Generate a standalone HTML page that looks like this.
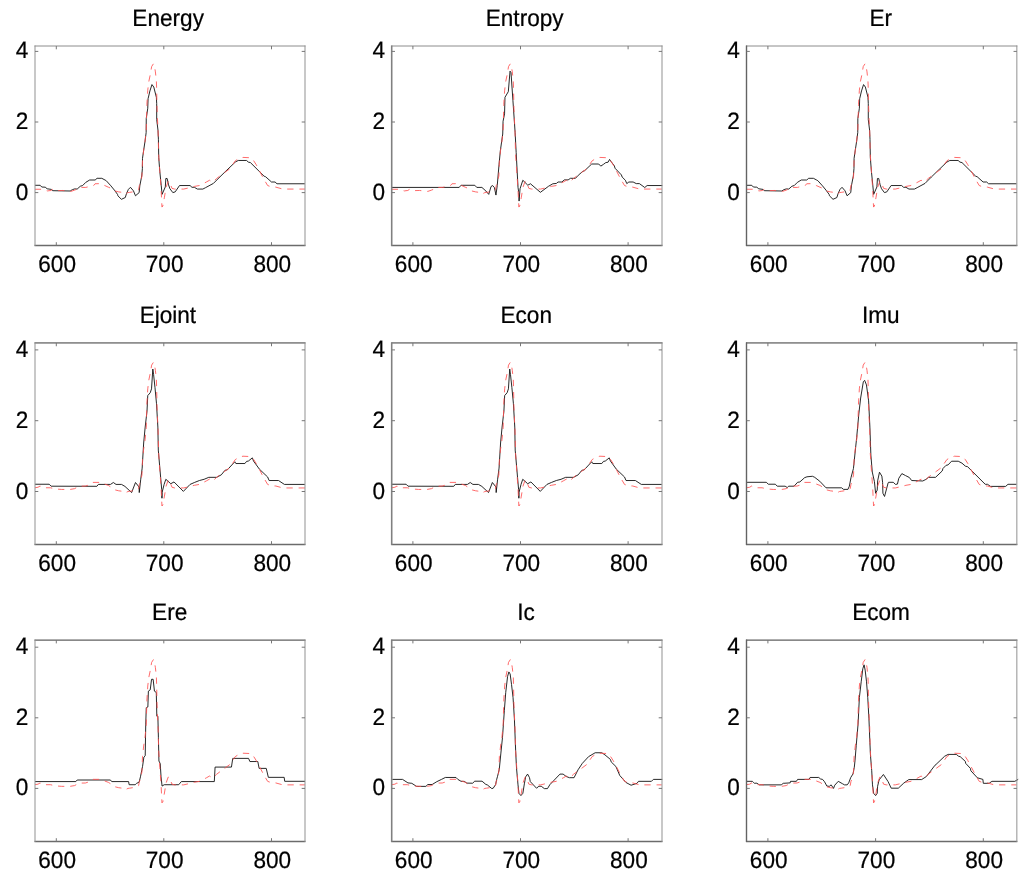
<!DOCTYPE html><html><head><meta charset="utf-8"><style>html,body{margin:0;padding:0;background:#fff;}svg{display:block;will-change:transform;}text{font-family:"Liberation Sans", sans-serif;font-size:22.6px;fill:#000;stroke:#000;stroke-width:0.22px;text-rendering:geometricPrecision;}</style></head><body>
<svg width="1024" height="870" viewBox="0 0 1024 870">
<rect width="1024" height="870" fill="#fff"/>
<clipPath id="c00"><rect x="35.00" y="46.00" width="271.60" height="199.50"/></clipPath>
<g clip-path="url(#c00)" fill="none" stroke-linejoin="round">
<path d="M35.00 185.29L40.16 185.29L41.77 187.02L45.22 187.20L47.15 188.79L51.46 189.42L52.64 190.69L70.18 191.01L72.44 189.60L74.81 188.89L77.17 189.07L80.29 186.25L82.66 185.54L85.78 182.36L89.66 180.00L95.14 180.00L97.08 178.30L101.81 178.30L105.15 180.10L106.23 180.70L110.85 185.79L114.40 190.13L117.52 194.36L117.85 195.78L121.40 199.31L125.27 197.54L126.46 193.66L128.39 189.42L130.44 187.31L133.45 190.84L135.49 195.78L139.15 192.60L139.80 185.89L141.73 176.01L142.38 168.60L142.49 158.36L143.67 150.24L145.07 141.06L146.15 132.59L146.25 118.47L147.76 108.23L148.08 98.70L149.91 90.94L151.96 84.58L153.79 87.05L156.37 97.29L156.69 103.64L156.69 119.53L157.98 130.12L158.41 139.30L158.74 157.65L159.81 171.42L161.21 185.19L162.07 194.36L165.30 186.95L165.84 178.48L167.13 178.48L168.53 184.83L169.93 188.72L172.83 192.60L175.20 191.89L179.50 185.54L190.05 185.54L191.98 187.31L194.35 187.31L197.36 189.07L202.85 189.07L205.54 187.66L213.40 183.42L219.74 177.07L225.02 171.88L235.24 162.10L238.25 160.48L246.54 160.48L248.37 162.10L250.41 162.59L264.08 176.19L265.58 176.72L271.50 182.01L275.05 182.01L276.99 183.78L304.86 183.78" stroke="#111" stroke-width="0.9"/>
<path d="M34.78 189.25L41.99 189.25L44.46 190.13L47.48 190.91L50.92 190.48L52.64 189.32L54.15 190.48L56.30 190.66L62.76 190.48L70.93 191.40L74.59 190.13L77.60 188.89L79.11 187.41L85.78 187.41L90.73 186.25L93.64 185.54L95.04 183.78L101.06 183.60L104.72 185.54L108.38 187.20L111.18 188.36L114.40 190.84L118.71 191.89L122.58 192.42L125.16 194.01L127.96 192.60L129.58 192.39L132.70 191.89L136.25 191.54L138.61 189.78L139.37 185.54L140.23 183.78L141.95 176.01L142.49 160.83L143.67 150.24L145.07 141.06L146.25 129.06L146.90 104.35L147.76 90.23L148.84 81.41L150.34 74.34L151.63 66.58L153.46 63.75L154.54 66.58L155.40 71.87L156.37 80.70L156.69 90.23L156.91 104.35L157.44 118.47L158.09 130.82L158.63 153.77L159.81 171.42L160.99 187.31L161.96 207.07L162.82 206.01L164.44 197.19L166.05 187.31L168.20 181.30L169.28 181.30L171.97 188.36L174.66 189.07L178.96 189.07L183.70 189.07L189.72 187.66L194.35 186.42L199.41 185.54L203.71 183.42L206.40 182.01L209.52 180.25L212.64 182.36L216.62 178.48L221.25 174.95L225.23 172.13L229.75 168.77L235.24 160.83L239.22 158.36L242.99 157.41L251.16 157.79L253.75 160.83L256.22 164.71L259.45 170.71L263.65 178.83L267.63 185.54L271.50 186.95L275.80 187.13L282.80 189.07L304.86 189.07" stroke="#ff5050" stroke-width="0.85" stroke-dasharray="6.3 5.9"/>
</g>
<path d="M34.50 46.00H305.50" stroke="#8c8c8c" stroke-width="1.00"/>
<path d="M34.50 245.50H305.50" stroke="#6b6b6b" stroke-width="1.60"/>
<path d="M35.00 45.50V246.00" stroke="#919191" stroke-width="1.00"/>
<path d="M305.00 45.50V246.00" stroke="#919191" stroke-width="1.00"/>
<path d="M56.30 46.00v3.30M56.30 245.50v-3.30M163.80 46.00v3.30M163.80 245.50v-3.30M271.50 46.00v3.30M271.50 245.50v-3.30M35.00 192.60h3.30M305.00 192.60h-3.30M35.00 122.00h3.30M305.00 122.00h-3.30M35.00 51.40h3.30M305.00 51.40h-3.30" stroke="#777" stroke-width="1" fill="none"/>
<text transform="translate(57.10 272.20) scale(1 1.05)" text-anchor="middle">600</text>
<text transform="translate(164.60 272.20) scale(1 1.05)" text-anchor="middle">700</text>
<text transform="translate(272.30 272.20) scale(1 1.05)" text-anchor="middle">800</text>
<text transform="translate(28.40 199.60) scale(1 1.05)" text-anchor="end">0</text>
<text transform="translate(28.40 129.00) scale(1 1.05)" text-anchor="end">2</text>
<text transform="translate(28.40 58.40) scale(1 1.05)" text-anchor="end">4</text>
<text transform="translate(168.15 26.00) scale(1 1.05)" text-anchor="middle">Energy</text>
<clipPath id="c01"><rect x="391.70" y="46.00" width="271.90" height="199.50"/></clipPath>
<g clip-path="url(#c01)" fill="none" stroke-linejoin="round">
<path d="M391.68 187.41L459.20 187.41L460.97 185.29L474.80 185.29L476.79 187.41L481.90 187.41L485.94 191.05L488.74 194.36L490.99 186.60L492.61 185.54L494.44 187.66L495.94 195.07L497.24 185.54L499.06 164.36L500.36 150.59L502.72 134.00L503.05 121.29L504.55 113.88L504.98 97.29L508.32 91.64L510.04 71.17L511.01 72.58L512.95 100.82L515.10 132.24L516.17 152.36L518.00 187.31L518.76 192.60L519.08 201.07L520.05 188.72L522.84 180.25L527.79 185.19L530.48 183.78L540.38 192.32L548.56 186.25L552.86 183.78L556.42 183.42L558.03 182.01L561.90 182.01L564.27 179.89L568.14 179.89L570.51 178.30L575.46 178.30L578.26 175.30L582.67 171.42L584.61 170.71L591.71 164.01L598.70 164.01L600.75 166.12L603.44 164.36L605.80 162.59L608.06 162.24L609.57 159.42L611.18 161.71L614.30 165.77L615.06 168.24L621.41 174.95L622.16 177.07L625.39 180.25L626.79 183.60L628.83 182.01L633.13 182.01L636.25 183.60L639.38 183.60L644.76 187.52L647.12 185.54L662.29 185.54" stroke="#111" stroke-width="0.9"/>
<path d="M391.68 189.25L398.89 189.25L401.36 190.13L404.38 190.91L407.82 190.48L409.54 189.32L411.05 190.48L413.20 190.66L419.66 190.48L427.83 191.40L431.49 190.13L434.50 188.89L436.01 187.41L442.68 187.41L447.63 186.25L450.54 185.54L451.94 183.78L457.96 183.60L461.62 185.54L465.28 187.20L468.08 188.36L471.30 190.84L475.61 191.89L479.48 192.42L482.06 194.01L484.86 192.60L486.48 192.39L489.60 191.89L493.15 191.54L495.51 189.78L496.27 185.54L497.13 183.78L498.85 176.01L499.39 160.83L500.57 150.24L501.97 141.06L503.15 129.06L503.80 104.35L504.66 90.23L505.74 81.41L507.24 74.34L508.53 66.58L510.36 63.75L511.44 66.58L512.30 71.87L513.27 80.70L513.59 90.23L513.81 104.35L514.34 118.47L514.99 130.82L515.53 153.77L516.71 171.42L517.89 187.31L518.86 207.07L519.72 206.01L521.34 197.19L522.95 187.31L525.10 181.30L526.18 181.30L528.87 188.36L531.56 189.07L535.86 189.07L540.60 189.07L546.62 187.66L551.25 186.42L556.31 185.54L560.61 183.42L563.30 182.01L566.42 180.25L569.54 182.36L573.52 178.48L578.15 174.95L582.13 172.13L586.65 168.77L592.14 160.83L596.12 158.36L599.89 157.41L608.06 157.79L610.65 160.83L613.12 164.71L616.35 170.71L620.55 178.83L624.53 185.54L628.40 186.95L632.70 187.13L639.70 189.07L661.76 189.07" stroke="#ff5050" stroke-width="0.85" stroke-dasharray="6.3 5.9"/>
</g>
<path d="M391.20 46.00H662.50" stroke="#8c8c8c" stroke-width="1.00"/>
<path d="M391.20 245.50H662.50" stroke="#6b6b6b" stroke-width="1.60"/>
<path d="M391.70 45.50V246.00" stroke="#808080" stroke-width="1.60"/>
<path d="M662.00 45.50V246.00" stroke="#919191" stroke-width="1.00"/>
<path d="M412.90 46.00v3.30M412.90 245.50v-3.30M520.50 46.00v3.30M520.50 245.50v-3.30M628.10 46.00v3.30M628.10 245.50v-3.30M391.70 192.60h3.30M662.00 192.60h-3.30M391.70 122.00h3.30M662.00 122.00h-3.30M391.70 51.40h3.30M662.00 51.40h-3.30" stroke="#777" stroke-width="1" fill="none"/>
<text transform="translate(413.70 272.20) scale(1 1.05)" text-anchor="middle">600</text>
<text transform="translate(521.30 272.20) scale(1 1.05)" text-anchor="middle">700</text>
<text transform="translate(628.90 272.20) scale(1 1.05)" text-anchor="middle">800</text>
<text transform="translate(385.10 199.60) scale(1 1.05)" text-anchor="end">0</text>
<text transform="translate(385.10 129.00) scale(1 1.05)" text-anchor="end">2</text>
<text transform="translate(385.10 58.40) scale(1 1.05)" text-anchor="end">4</text>
<text transform="translate(524.65 26.00) scale(1 1.05)" text-anchor="middle">Entropy</text>
<clipPath id="c02"><rect x="746.50" y="46.00" width="271.95" height="199.50"/></clipPath>
<g clip-path="url(#c02)" fill="none" stroke-linejoin="round">
<path d="M746.60 185.29L751.76 185.29L753.37 187.02L756.82 187.20L758.75 188.79L763.06 189.42L764.24 190.69L781.78 191.01L784.04 189.60L786.41 188.89L788.77 189.07L791.89 186.25L794.26 185.54L797.38 182.36L801.26 180.00L806.74 180.00L808.68 178.30L813.41 178.30L816.75 180.10L817.83 180.70L822.45 185.79L826.00 190.13L829.12 194.36L829.45 195.78L833.00 199.31L836.87 197.54L838.06 193.66L839.99 189.42L842.04 187.31L845.05 190.84L847.09 195.78L850.75 192.60L851.40 185.89L853.33 176.01L853.98 168.60L854.09 158.36L855.27 150.24L856.67 141.06L857.75 132.59L857.85 118.47L859.36 108.23L859.68 98.70L861.51 90.94L863.56 84.58L865.39 87.05L867.97 97.29L868.29 103.64L868.29 119.53L869.58 130.12L870.01 139.30L870.34 157.65L871.41 171.42L872.81 185.19L873.67 194.36L876.90 186.95L877.44 178.48L878.73 178.48L880.13 184.83L881.53 188.72L884.43 192.60L886.80 191.89L891.10 185.54L901.65 185.54L903.58 187.31L905.95 187.31L908.96 189.07L914.45 189.07L917.14 187.66L925.00 183.42L931.34 177.07L936.62 171.88L946.84 162.10L949.85 160.48L958.14 160.48L959.97 162.10L962.01 162.59L975.68 176.19L977.18 176.72L983.10 182.01L986.65 182.01L988.59 183.78L1016.46 183.78" stroke="#111" stroke-width="0.9"/>
<path d="M746.38 189.25L753.59 189.25L756.06 190.13L759.08 190.91L762.52 190.48L764.24 189.32L765.75 190.48L767.90 190.66L774.36 190.48L782.53 191.40L786.19 190.13L789.20 188.89L790.71 187.41L797.38 187.41L802.33 186.25L805.24 185.54L806.64 183.78L812.66 183.60L816.32 185.54L819.98 187.20L822.78 188.36L826.00 190.84L830.31 191.89L834.18 192.42L836.76 194.01L839.56 192.60L841.18 192.39L844.30 191.89L847.85 191.54L850.21 189.78L850.97 185.54L851.83 183.78L853.55 176.01L854.09 160.83L855.27 150.24L856.67 141.06L857.85 129.06L858.50 104.35L859.36 90.23L860.44 81.41L861.94 74.34L863.23 66.58L865.06 63.75L866.14 66.58L867.00 71.87L867.97 80.70L868.29 90.23L868.51 104.35L869.04 118.47L869.69 130.82L870.23 153.77L871.41 171.42L872.59 187.31L873.56 207.07L874.42 206.01L876.04 197.19L877.65 187.31L879.80 181.30L880.88 181.30L883.57 188.36L886.26 189.07L890.56 189.07L895.30 189.07L901.32 187.66L905.95 186.42L911.01 185.54L915.31 183.42L918.00 182.01L921.12 180.25L924.24 182.36L928.22 178.48L932.85 174.95L936.83 172.13L941.35 168.77L946.84 160.83L950.82 158.36L954.59 157.41L962.76 157.79L965.35 160.83L967.82 164.71L971.05 170.71L975.25 178.83L979.23 185.54L983.10 186.95L987.40 187.13L994.40 189.07L1016.46 189.07" stroke="#ff5050" stroke-width="0.85" stroke-dasharray="6.3 5.9"/>
</g>
<path d="M746.00 46.00H1017.35" stroke="#8c8c8c" stroke-width="1.00"/>
<path d="M746.00 245.50H1017.35" stroke="#6b6b6b" stroke-width="1.60"/>
<path d="M746.50 45.50V246.00" stroke="#636363" stroke-width="1.40"/>
<path d="M1016.85 45.50V246.00" stroke="#919191" stroke-width="1.00"/>
<path d="M767.90 46.00v3.30M767.90 245.50v-3.30M875.60 46.00v3.30M875.60 245.50v-3.30M983.30 46.00v3.30M983.30 245.50v-3.30M746.50 192.60h3.30M1016.85 192.60h-3.30M746.50 122.00h3.30M1016.85 122.00h-3.30M746.50 51.40h3.30M1016.85 51.40h-3.30" stroke="#777" stroke-width="1" fill="none"/>
<text transform="translate(768.70 272.20) scale(1 1.05)" text-anchor="middle">600</text>
<text transform="translate(876.40 272.20) scale(1 1.05)" text-anchor="middle">700</text>
<text transform="translate(984.10 272.20) scale(1 1.05)" text-anchor="middle">800</text>
<text transform="translate(739.90 199.60) scale(1 1.05)" text-anchor="end">0</text>
<text transform="translate(739.90 129.00) scale(1 1.05)" text-anchor="end">2</text>
<text transform="translate(739.90 58.40) scale(1 1.05)" text-anchor="end">4</text>
<text transform="translate(880.80 26.00) scale(1 1.05)" text-anchor="middle">Er</text>
<clipPath id="c10"><rect x="35.00" y="342.95" width="271.60" height="201.55"/></clipPath>
<g clip-path="url(#c10)" fill="none" stroke-linejoin="round">
<path d="M34.78 484.24L49.20 484.24L51.14 486.19L96.87 486.30L98.37 484.42L110.53 484.42L113.33 482.51L116.02 484.42L121.51 484.42L124.95 486.40L131.62 492.56L135.49 482.51L139.15 487.11L139.26 492.56L140.66 479.82L142.16 468.14L143.67 443.00L145.18 427.07L147.01 411.14L147.76 395.57L150.23 392.73L151.53 388.84L152.82 369.02L153.57 374.33L154.97 387.42L156.48 403.35L157.87 427.07L158.30 450.08L160.67 477.69L161.69 489.38L161.96 498.23L162.07 492.56L164.12 484.42L165.84 479.29L170.79 483.71L174.01 481.94L183.38 491.39L190.05 484.42L194.67 482.40L199.41 480.53L204.14 479.29L208.77 477.34L216.62 477.34L221.25 474.86L225.02 470.26L227.28 469.91L234.81 461.76L235.88 463.53L244.92 463.53L246.54 461.41L248.37 461.06L252.35 457.87L253.53 461.06L259.45 469.20L267.63 476.99L269.13 480.53L278.49 480.53L284.41 484.42L304.86 484.42" stroke="#111" stroke-width="0.9"/>
<path d="M34.78 487.78L38.01 487.25L40.16 486.01L41.88 487.61L45.54 487.78L50.49 487.78L55.44 488.95L61.68 489.45L70.07 489.45L74.59 488.67L77.60 487.00L78.90 486.19L85.35 486.08L90.73 484.42L92.88 482.40L100.85 482.40L104.72 484.07L108.49 485.48L111.18 487.25L114.40 489.73L118.71 490.79L122.58 491.32L125.16 492.92L127.96 491.50L129.58 491.29L132.70 490.79L136.25 490.44L138.61 488.67L139.37 484.42L140.23 482.65L141.95 474.86L142.49 459.64L143.67 449.02L145.07 439.82L146.25 427.78L146.90 403.00L147.76 388.84L148.84 379.99L150.34 372.91L151.63 365.12L153.46 362.29L154.54 365.12L155.40 370.43L156.37 379.28L156.69 388.84L156.91 403.00L157.44 417.16L158.09 429.55L158.63 452.56L159.81 470.26L160.99 486.19L161.96 506.01L162.82 504.95L164.44 496.10L166.05 486.19L168.20 480.17L169.28 480.17L171.97 487.25L174.66 487.96L178.96 487.96L183.70 487.96L189.72 486.54L194.35 485.31L199.41 484.42L203.71 482.30L206.40 480.88L209.52 479.11L212.64 481.23L216.62 477.34L221.25 473.80L225.23 470.97L229.75 467.61L235.24 459.64L239.22 457.16L242.99 456.21L251.16 456.60L253.75 459.64L256.22 463.53L259.45 469.55L263.65 477.69L267.63 484.42L271.50 485.84L275.80 486.01L282.80 487.96L304.86 487.96" stroke="#ff5050" stroke-width="0.85" stroke-dasharray="6.3 5.9"/>
</g>
<path d="M34.50 342.95H305.50" stroke="#383838" stroke-width="1.00"/>
<path d="M34.50 544.50H305.50" stroke="#6b6b6b" stroke-width="1.60"/>
<path d="M35.00 342.45V545.00" stroke="#919191" stroke-width="1.00"/>
<path d="M305.00 342.45V545.00" stroke="#919191" stroke-width="1.00"/>
<path d="M56.30 342.95v3.30M56.30 544.50v-3.30M163.80 342.95v3.30M163.80 544.50v-3.30M271.50 342.95v3.30M271.50 544.50v-3.30M35.00 491.50h3.30M305.00 491.50h-3.30M35.00 420.70h3.30M305.00 420.70h-3.30M35.00 349.90h3.30M305.00 349.90h-3.30" stroke="#777" stroke-width="1" fill="none"/>
<text transform="translate(57.10 571.20) scale(1 1.05)" text-anchor="middle">600</text>
<text transform="translate(164.60 571.20) scale(1 1.05)" text-anchor="middle">700</text>
<text transform="translate(272.30 571.20) scale(1 1.05)" text-anchor="middle">800</text>
<text transform="translate(28.40 498.50) scale(1 1.05)" text-anchor="end">0</text>
<text transform="translate(28.40 427.70) scale(1 1.05)" text-anchor="end">2</text>
<text transform="translate(28.40 356.90) scale(1 1.05)" text-anchor="end">4</text>
<text transform="translate(167.90 323.00) scale(1 1.05)" text-anchor="middle">Ejoint</text>
<clipPath id="c11"><rect x="391.70" y="342.95" width="271.90" height="201.55"/></clipPath>
<g clip-path="url(#c11)" fill="none" stroke-linejoin="round">
<path d="M391.68 484.24L406.10 484.24L408.04 486.19L453.77 486.30L455.27 484.42L467.43 484.42L470.23 482.51L472.92 484.42L478.41 484.42L481.85 486.40L488.52 492.56L492.39 482.51L496.05 487.11L496.16 492.56L497.56 479.82L499.06 468.14L500.57 443.00L502.08 427.07L503.91 411.14L504.66 395.57L507.13 392.73L508.43 388.84L509.72 369.02L510.47 374.33L511.87 387.42L513.38 403.35L514.77 427.07L515.20 450.08L517.57 477.69L518.59 489.38L518.86 498.23L518.97 492.56L521.02 484.42L522.74 479.29L527.69 483.71L530.91 481.94L540.28 491.39L546.95 484.42L551.57 482.40L556.31 480.53L561.04 479.29L565.67 477.34L573.52 477.34L578.15 474.86L581.92 470.26L584.18 469.91L591.71 461.76L592.78 463.53L601.82 463.53L603.44 461.41L605.27 461.06L609.25 457.87L610.43 461.06L616.35 469.20L624.53 476.99L626.03 480.53L635.39 480.53L641.31 484.42L661.76 484.42" stroke="#111" stroke-width="0.9"/>
<path d="M391.68 487.78L394.91 487.25L397.06 486.01L398.78 487.61L402.44 487.78L407.39 487.78L412.34 488.95L418.58 489.45L426.97 489.45L431.49 488.67L434.50 487.00L435.80 486.19L442.25 486.08L447.63 484.42L449.78 482.40L457.75 482.40L461.62 484.07L465.39 485.48L468.08 487.25L471.30 489.73L475.61 490.79L479.48 491.32L482.06 492.92L484.86 491.50L486.48 491.29L489.60 490.79L493.15 490.44L495.51 488.67L496.27 484.42L497.13 482.65L498.85 474.86L499.39 459.64L500.57 449.02L501.97 439.82L503.15 427.78L503.80 403.00L504.66 388.84L505.74 379.99L507.24 372.91L508.53 365.12L510.36 362.29L511.44 365.12L512.30 370.43L513.27 379.28L513.59 388.84L513.81 403.00L514.34 417.16L514.99 429.55L515.53 452.56L516.71 470.26L517.89 486.19L518.86 506.01L519.72 504.95L521.34 496.10L522.95 486.19L525.10 480.17L526.18 480.17L528.87 487.25L531.56 487.96L535.86 487.96L540.60 487.96L546.62 486.54L551.25 485.31L556.31 484.42L560.61 482.30L563.30 480.88L566.42 479.11L569.54 481.23L573.52 477.34L578.15 473.80L582.13 470.97L586.65 467.61L592.14 459.64L596.12 457.16L599.89 456.21L608.06 456.60L610.65 459.64L613.12 463.53L616.35 469.55L620.55 477.69L624.53 484.42L628.40 485.84L632.70 486.01L639.70 487.96L661.76 487.96" stroke="#ff5050" stroke-width="0.85" stroke-dasharray="6.3 5.9"/>
</g>
<path d="M391.20 342.95H662.50" stroke="#383838" stroke-width="1.00"/>
<path d="M391.20 544.50H662.50" stroke="#6b6b6b" stroke-width="1.60"/>
<path d="M391.70 342.45V545.00" stroke="#808080" stroke-width="1.60"/>
<path d="M662.00 342.45V545.00" stroke="#919191" stroke-width="1.00"/>
<path d="M412.90 342.95v3.30M412.90 544.50v-3.30M520.50 342.95v3.30M520.50 544.50v-3.30M628.10 342.95v3.30M628.10 544.50v-3.30M391.70 491.50h3.30M662.00 491.50h-3.30M391.70 420.70h3.30M662.00 420.70h-3.30M391.70 349.90h3.30M662.00 349.90h-3.30" stroke="#777" stroke-width="1" fill="none"/>
<text transform="translate(413.70 571.20) scale(1 1.05)" text-anchor="middle">600</text>
<text transform="translate(521.30 571.20) scale(1 1.05)" text-anchor="middle">700</text>
<text transform="translate(628.90 571.20) scale(1 1.05)" text-anchor="middle">800</text>
<text transform="translate(385.10 498.50) scale(1 1.05)" text-anchor="end">0</text>
<text transform="translate(385.10 427.70) scale(1 1.05)" text-anchor="end">2</text>
<text transform="translate(385.10 356.90) scale(1 1.05)" text-anchor="end">4</text>
<text transform="translate(526.20 323.00) scale(1 1.05)" text-anchor="middle">Econ</text>
<clipPath id="c12"><rect x="746.50" y="342.95" width="271.95" height="201.55"/></clipPath>
<g clip-path="url(#c12)" fill="none" stroke-linejoin="round">
<path d="M746.38 483.39L747.24 482.30L766.29 482.30L768.33 484.21L775.32 484.21L777.26 486.19L785.12 486.19L787.38 487.61L788.56 486.19L794.05 486.19L797.60 482.30L799.86 481.94L804.59 477.69L806.96 476.81L812.45 476.28L814.71 477.34L819.76 481.23L826.00 487.82L841.61 487.82L843.54 489.38L847.95 489.38L849.35 486.19L850.97 477.69L853.44 468.49L854.84 455.04L856.67 437.69L858.82 413.97L860.65 398.04L863.34 381.76L864.63 380.34L866.46 384.95L868.61 400.88L869.90 427.07L870.87 455.04L872.27 472.03L874.42 481.59L875.61 493.27L877.22 490.08L877.65 480.88L879.48 472.21L881.85 476.10L882.60 482.30L882.92 493.27L884.54 496.46L888.09 483.00L888.52 482.30L893.25 482.30L895.51 484.42L897.45 484.07L898.74 478.40L901.86 473.62L905.52 475.57L909.39 477.52L911.65 480.53L922.74 480.99L925.80 479.46L928.55 477.34L935.54 477.34L942.21 470.97L942.97 468.49L946.09 465.30L948.02 464.95L951.57 461.23L958.24 461.23L962.01 463.18L965.35 466.15L967.61 466.72L985.25 484.31L987.51 484.31L990.52 486.40L1005.70 486.40L1007.96 484.31L1016.46 484.31" stroke="#111" stroke-width="0.9"/>
<path d="M746.38 487.78L749.61 487.25L751.76 486.01L753.48 487.61L757.14 487.78L762.09 487.78L767.04 488.95L773.28 489.45L781.67 489.45L786.19 488.67L789.20 487.00L790.50 486.19L796.95 486.08L802.33 484.42L804.48 482.40L812.45 482.40L816.32 484.07L820.09 485.48L822.78 487.25L826.00 489.73L830.31 490.79L834.18 491.32L836.76 492.92L839.56 491.50L841.18 491.29L844.30 490.79L847.85 490.44L850.21 488.67L850.97 484.42L851.83 482.65L853.55 474.86L854.09 459.64L855.27 449.02L856.67 439.82L857.85 427.78L858.50 403.00L859.36 388.84L860.44 379.99L861.94 372.91L863.23 365.12L865.06 362.29L866.14 365.12L867.00 370.43L867.97 379.28L868.29 388.84L868.51 403.00L869.04 417.16L869.69 429.55L870.23 452.56L871.41 470.26L872.59 486.19L873.56 506.01L874.42 504.95L876.04 496.10L877.65 486.19L879.80 480.17L880.88 480.17L883.57 487.25L886.26 487.96L890.56 487.96L895.30 487.96L901.32 486.54L905.95 485.31L911.01 484.42L915.31 482.30L918.00 480.88L921.12 479.11L924.24 481.23L928.22 477.34L932.85 473.80L936.83 470.97L941.35 467.61L946.84 459.64L950.82 457.16L954.59 456.21L962.76 456.60L965.35 459.64L967.82 463.53L971.05 469.55L975.25 477.69L979.23 484.42L983.10 485.84L987.40 486.01L994.40 487.96L1016.46 487.96" stroke="#ff5050" stroke-width="0.85" stroke-dasharray="6.3 5.9"/>
</g>
<path d="M746.00 342.95H1017.35" stroke="#383838" stroke-width="1.00"/>
<path d="M746.00 544.50H1017.35" stroke="#6b6b6b" stroke-width="1.60"/>
<path d="M746.50 342.45V545.00" stroke="#636363" stroke-width="1.40"/>
<path d="M1016.85 342.45V545.00" stroke="#919191" stroke-width="1.00"/>
<path d="M767.90 342.95v3.30M767.90 544.50v-3.30M875.60 342.95v3.30M875.60 544.50v-3.30M983.30 342.95v3.30M983.30 544.50v-3.30M746.50 491.50h3.30M1016.85 491.50h-3.30M746.50 420.70h3.30M1016.85 420.70h-3.30M746.50 349.90h3.30M1016.85 349.90h-3.30" stroke="#777" stroke-width="1" fill="none"/>
<text transform="translate(768.70 571.20) scale(1 1.05)" text-anchor="middle">600</text>
<text transform="translate(876.40 571.20) scale(1 1.05)" text-anchor="middle">700</text>
<text transform="translate(984.10 571.20) scale(1 1.05)" text-anchor="middle">800</text>
<text transform="translate(739.90 498.50) scale(1 1.05)" text-anchor="end">0</text>
<text transform="translate(739.90 427.70) scale(1 1.05)" text-anchor="end">2</text>
<text transform="translate(739.90 356.90) scale(1 1.05)" text-anchor="end">4</text>
<text transform="translate(880.80 323.00) scale(1 1.05)" text-anchor="middle">Imu</text>
<clipPath id="c20"><rect x="35.00" y="640.10" width="271.60" height="201.40"/></clipPath>
<g clip-path="url(#c20)" fill="none" stroke-linejoin="round">
<path d="M35.00 781.59L75.87 781.59L77.19 780.00L110.14 780.00L111.99 781.59L128.61 781.59L129.13 784.73L135.19 784.73L136.52 783.42L139.15 782.12L140.46 776.82L142.57 766.30L143.90 757.05L145.21 755.75L145.74 724.12L146.26 707.74L147.86 706.96L148.38 691.15L150.22 689.81L151.55 679.29L153.13 679.29L154.44 691.15L156.29 692.45L156.82 716.18L157.87 716.18L158.40 737.29L158.93 761.01L160.24 763.65L161.04 776.82L162.09 786.07L164.20 784.73L178.71 784.73L181.34 781.59L214.30 781.59L215.09 767.08L231.44 767.08L232.75 758.39L248.57 758.39L249.89 761.54L257.80 761.54L259.13 768.38L266.24 768.38L268.35 777.35L284.18 777.35L284.70 781.30L305.00 781.30" stroke="#111" stroke-width="0.9"/>
<path d="M34.78 784.69L38.01 784.16L40.16 782.93L41.88 784.52L45.54 784.69L50.49 784.69L55.44 785.86L61.68 786.35L70.07 786.35L74.59 785.58L77.60 783.92L78.90 783.11L85.35 783.00L90.73 781.34L92.88 779.33L100.85 779.33L104.72 780.99L108.49 782.40L111.18 784.16L114.40 786.63L118.71 787.69L122.58 788.22L125.16 789.81L127.96 788.40L129.58 788.19L132.70 787.69L136.25 787.34L138.61 785.58L139.37 781.34L140.23 779.57L141.95 771.81L142.49 756.63L143.67 746.04L145.07 736.86L146.25 724.86L146.90 700.15L147.76 686.03L148.84 677.20L150.34 670.14L151.63 662.38L153.46 659.55L154.54 662.38L155.40 667.67L156.37 676.50L156.69 686.03L156.91 700.15L157.44 714.27L158.09 726.62L158.63 749.57L159.81 767.22L160.99 783.11L161.96 802.87L162.82 801.81L164.44 792.99L166.05 783.11L168.20 777.10L169.28 777.10L171.97 784.16L174.66 784.87L178.96 784.87L183.70 784.87L189.72 783.46L194.35 782.22L199.41 781.34L203.71 779.22L206.40 777.81L209.52 776.04L212.64 778.16L216.62 774.28L221.25 770.75L225.23 767.93L229.75 764.57L235.24 756.63L239.22 754.16L242.99 753.21L251.16 753.59L253.75 756.63L256.22 760.51L259.45 766.51L263.65 774.63L267.63 781.34L271.50 782.75L275.80 782.93L282.80 784.87L304.86 784.87" stroke="#ff5050" stroke-width="0.85" stroke-dasharray="6.3 5.9"/>
</g>
<path d="M34.50 640.10H305.50" stroke="#383838" stroke-width="1.00"/>
<path d="M34.50 841.50H305.50" stroke="#6b6b6b" stroke-width="1.60"/>
<path d="M35.00 639.60V842.00" stroke="#919191" stroke-width="1.00"/>
<path d="M305.00 639.60V842.00" stroke="#919191" stroke-width="1.00"/>
<path d="M56.30 640.10v3.30M56.30 841.50v-3.30M163.80 640.10v3.30M163.80 841.50v-3.30M271.50 640.10v3.30M271.50 841.50v-3.30M35.00 788.40h3.30M305.00 788.40h-3.30M35.00 717.80h3.30M305.00 717.80h-3.30M35.00 647.20h3.30M305.00 647.20h-3.30" stroke="#777" stroke-width="1" fill="none"/>
<text transform="translate(57.10 868.20) scale(1 1.05)" text-anchor="middle">600</text>
<text transform="translate(164.60 868.20) scale(1 1.05)" text-anchor="middle">700</text>
<text transform="translate(272.30 868.20) scale(1 1.05)" text-anchor="middle">800</text>
<text transform="translate(28.40 795.40) scale(1 1.05)" text-anchor="end">0</text>
<text transform="translate(28.40 724.80) scale(1 1.05)" text-anchor="end">2</text>
<text transform="translate(28.40 654.20) scale(1 1.05)" text-anchor="end">4</text>
<text transform="translate(169.70 620.00) scale(1 1.05)" text-anchor="middle">Ere</text>
<clipPath id="c21"><rect x="391.70" y="640.10" width="271.90" height="201.40"/></clipPath>
<g clip-path="url(#c21)" fill="none" stroke-linejoin="round">
<path d="M392.33 779.40L402.55 779.40L407.93 782.89L411.80 783.32L416.54 786.39L425.90 786.39L427.83 784.52L432.14 784.52L436.76 781.69L441.50 779.40L445.37 777.46L456.02 777.46L457.85 779.40L461.08 781.34L464.20 781.34L466.89 783.11L472.60 783.21L474.75 781.20L482.06 781.20L485.83 784.41L487.34 784.91L491.75 788.54L493.15 788.29L495.62 784.59L496.59 779.79L497.56 776.29L499.28 769.34L500.89 753.10L502.51 737.22L504.34 710.74L505.74 692.38L507.57 676.50L508.86 671.91L510.15 674.03L511.55 684.62L513.05 697.68L514.40 718.86L515.64 750.28L516.50 767.93L518.00 784.87L518.97 793.34L520.91 795.60L522.84 793.34L524.35 783.88L525.64 776.89L527.58 774.10L529.52 777.70L530.27 781.59L536.51 788.19L538.88 786.25L541.24 786.25L544.36 788.61L547.48 788.61L549.85 784.69L559.97 774.10L563.09 774.10L566.21 776.50L569.44 777.70L574.06 777.70L578.04 769.80L582.35 763.34L588.59 756.63L595.15 752.75L601.82 752.75L604.94 754.87L610.43 759.45L611.18 761.92L615.92 766.51L619.79 775.52L626.03 782.50L631.09 785.22L637.01 783.32L638.51 781.34L651.43 781.34L653.36 779.40L662.29 779.40" stroke="#111" stroke-width="0.9"/>
<path d="M391.68 784.69L394.91 784.16L397.06 782.93L398.78 784.52L402.44 784.69L407.39 784.69L412.34 785.86L418.58 786.35L426.97 786.35L431.49 785.58L434.50 783.92L435.80 783.11L442.25 783.00L447.63 781.34L449.78 779.33L457.75 779.33L461.62 780.99L465.39 782.40L468.08 784.16L471.30 786.63L475.61 787.69L479.48 788.22L482.06 789.81L484.86 788.40L486.48 788.19L489.60 787.69L493.15 787.34L495.51 785.58L496.27 781.34L497.13 779.57L498.85 771.81L499.39 756.63L500.57 746.04L501.97 736.86L503.15 724.86L503.80 700.15L504.66 686.03L505.74 677.20L507.24 670.14L508.53 662.38L510.36 659.55L511.44 662.38L512.30 667.67L513.27 676.50L513.59 686.03L513.81 700.15L514.34 714.27L514.99 726.62L515.53 749.57L516.71 767.22L517.89 783.11L518.86 802.87L519.72 801.81L521.34 792.99L522.95 783.11L525.10 777.10L526.18 777.10L528.87 784.16L531.56 784.87L535.86 784.87L540.60 784.87L546.62 783.46L551.25 782.22L556.31 781.34L560.61 779.22L563.30 777.81L566.42 776.04L569.54 778.16L573.52 774.28L578.15 770.75L582.13 767.93L586.65 764.57L592.14 756.63L596.12 754.16L599.89 753.21L608.06 753.59L610.65 756.63L613.12 760.51L616.35 766.51L620.55 774.63L624.53 781.34L628.40 782.75L632.70 782.93L639.70 784.87L661.76 784.87" stroke="#ff5050" stroke-width="0.85" stroke-dasharray="6.3 5.9"/>
</g>
<path d="M391.20 640.10H662.50" stroke="#383838" stroke-width="1.00"/>
<path d="M391.20 841.50H662.50" stroke="#6b6b6b" stroke-width="1.60"/>
<path d="M391.70 639.60V842.00" stroke="#808080" stroke-width="1.60"/>
<path d="M662.00 639.60V842.00" stroke="#919191" stroke-width="1.00"/>
<path d="M412.90 640.10v3.30M412.90 841.50v-3.30M520.50 640.10v3.30M520.50 841.50v-3.30M628.10 640.10v3.30M628.10 841.50v-3.30M391.70 788.40h3.30M662.00 788.40h-3.30M391.70 717.80h3.30M662.00 717.80h-3.30M391.70 647.20h3.30M662.00 647.20h-3.30" stroke="#777" stroke-width="1" fill="none"/>
<text transform="translate(413.70 868.20) scale(1 1.05)" text-anchor="middle">600</text>
<text transform="translate(521.30 868.20) scale(1 1.05)" text-anchor="middle">700</text>
<text transform="translate(628.90 868.20) scale(1 1.05)" text-anchor="middle">800</text>
<text transform="translate(385.10 795.40) scale(1 1.05)" text-anchor="end">0</text>
<text transform="translate(385.10 724.80) scale(1 1.05)" text-anchor="end">2</text>
<text transform="translate(385.10 654.20) scale(1 1.05)" text-anchor="end">4</text>
<text transform="translate(526.00 620.00) scale(1 1.05)" text-anchor="middle">Ic</text>
<clipPath id="c22"><rect x="746.50" y="640.10" width="271.95" height="201.40"/></clipPath>
<g clip-path="url(#c22)" fill="none" stroke-linejoin="round">
<path d="M746.38 781.34L752.41 781.34L753.37 782.40L754.23 783.21L756.92 783.21L758.86 784.59L759.29 784.87L781.24 784.87L783.29 783.32L790.17 782.89L790.50 781.34L796.41 781.34L797.60 779.40L808.90 779.40L810.08 777.46L818.69 777.46L820.62 779.01L822.56 779.40L824.50 781.69L826.86 786.00L829.23 786.39L831.17 784.87L833.54 788.40L834.72 785.22L838.27 781.34L842.47 783.71L844.51 784.87L847.20 784.87L848.71 782.89L850.75 777.46L853.01 773.93L854.30 767.22L855.06 760.16L856.24 745.33L858.07 724.15L859.36 697.68L861.19 681.79L862.80 668.73L864.09 664.85L865.17 670.14L866.52 681.79L867.75 697.68L868.94 718.86L869.90 742.51L870.44 754.87L871.73 770.75L872.49 784.87L873.67 793.34L875.61 795.60L877.22 793.34L877.60 786.28L879.10 779.93L883.41 774.49L888.09 781.59L891.21 788.19L898.31 788.19L903.75 783.11L908.80 779.57L921.66 779.57L926.39 776.50L935.00 765.21L935.97 764.50L944.58 756.28L948.13 754.41L956.31 754.41L958.67 756.28L960.18 756.63L965.35 761.40L965.67 763.34L970.40 768.38L970.83 770.75L977.40 777.81L982.88 779.40L983.32 783.32L989.13 783.32L991.92 781.34L1014.84 781.34L1018.39 779.22" stroke="#111" stroke-width="0.9"/>
<path d="M746.38 784.69L749.61 784.16L751.76 782.93L753.48 784.52L757.14 784.69L762.09 784.69L767.04 785.86L773.28 786.35L781.67 786.35L786.19 785.58L789.20 783.92L790.50 783.11L796.95 783.00L802.33 781.34L804.48 779.33L812.45 779.33L816.32 780.99L820.09 782.40L822.78 784.16L826.00 786.63L830.31 787.69L834.18 788.22L836.76 789.81L839.56 788.40L841.18 788.19L844.30 787.69L847.85 787.34L850.21 785.58L850.97 781.34L851.83 779.57L853.55 771.81L854.09 756.63L855.27 746.04L856.67 736.86L857.85 724.86L858.50 700.15L859.36 686.03L860.44 677.20L861.94 670.14L863.23 662.38L865.06 659.55L866.14 662.38L867.00 667.67L867.97 676.50L868.29 686.03L868.51 700.15L869.04 714.27L869.69 726.62L870.23 749.57L871.41 767.22L872.59 783.11L873.56 802.87L874.42 801.81L876.04 792.99L877.65 783.11L879.80 777.10L880.88 777.10L883.57 784.16L886.26 784.87L890.56 784.87L895.30 784.87L901.32 783.46L905.95 782.22L911.01 781.34L915.31 779.22L918.00 777.81L921.12 776.04L924.24 778.16L928.22 774.28L932.85 770.75L936.83 767.93L941.35 764.57L946.84 756.63L950.82 754.16L954.59 753.21L962.76 753.59L965.35 756.63L967.82 760.51L971.05 766.51L975.25 774.63L979.23 781.34L983.10 782.75L987.40 782.93L994.40 784.87L1016.46 784.87" stroke="#ff5050" stroke-width="0.85" stroke-dasharray="6.3 5.9"/>
</g>
<path d="M746.00 640.10H1017.35" stroke="#383838" stroke-width="1.00"/>
<path d="M746.00 841.50H1017.35" stroke="#6b6b6b" stroke-width="1.60"/>
<path d="M746.50 639.60V842.00" stroke="#636363" stroke-width="1.40"/>
<path d="M1016.85 639.60V842.00" stroke="#919191" stroke-width="1.00"/>
<path d="M767.90 640.10v3.30M767.90 841.50v-3.30M875.60 640.10v3.30M875.60 841.50v-3.30M983.30 640.10v3.30M983.30 841.50v-3.30M746.50 788.40h3.30M1016.85 788.40h-3.30M746.50 717.80h3.30M1016.85 717.80h-3.30M746.50 647.20h3.30M1016.85 647.20h-3.30" stroke="#777" stroke-width="1" fill="none"/>
<text transform="translate(768.70 868.20) scale(1 1.05)" text-anchor="middle">600</text>
<text transform="translate(876.40 868.20) scale(1 1.05)" text-anchor="middle">700</text>
<text transform="translate(984.10 868.20) scale(1 1.05)" text-anchor="middle">800</text>
<text transform="translate(739.90 795.40) scale(1 1.05)" text-anchor="end">0</text>
<text transform="translate(739.90 724.80) scale(1 1.05)" text-anchor="end">2</text>
<text transform="translate(739.90 654.20) scale(1 1.05)" text-anchor="end">4</text>
<text transform="translate(881.05 620.00) scale(1 1.05)" text-anchor="middle">Ecom</text>
</svg></body></html>
